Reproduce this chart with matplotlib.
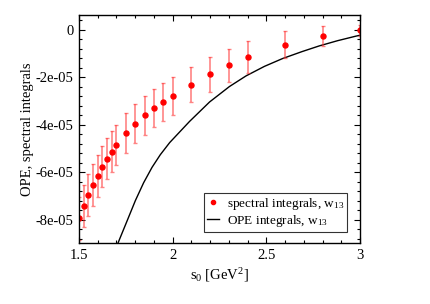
import matplotlib
matplotlib.use("Agg")
import matplotlib.pyplot as plt
from matplotlib.lines import Line2D
from matplotlib.ticker import MultipleLocator, FixedLocator, FixedFormatter

plt.rcParams['font.family'] = ['Liberation Serif', 'DejaVu Serif']
plt.rcParams['mathtext.fontset'] = 'custom'
plt.rcParams['mathtext.rm'] = 'Liberation Serif'
plt.rcParams['mathtext.it'] = 'Liberation Serif:italic'

# spectral integrals (points with error bars)
s0_spec = [1.5, 1.525, 1.55, 1.575, 1.6, 1.625, 1.65, 1.675, 1.7,
           1.75, 1.8, 1.85, 1.9, 1.95, 2.0, 2.1, 2.2, 2.3, 2.4, 2.6, 2.8, 3.0]
spec_vals = [-7.95e-5, -7.44e-5, -6.98e-5, -6.54e-5, -6.15e-5, -5.77e-5, -5.44e-5,
             -5.14e-5, -4.85e-5, -4.36e-5, -3.96e-5, -3.61e-5, -3.30e-5, -3.04e-5,
             -2.78e-5, -2.32e-5, -1.89e-5, -1.50e-5, -1.16e-5, -0.63e-5, -0.27e-5, -0.04e-5]
spec_errs = [0.92e-5, 0.89e-5, 0.88e-5, 0.88e-5, 0.88e-5, 0.87e-5, 0.86e-5,
             0.85e-5, 0.85e-5, 0.84e-5, 0.83e-5, 0.82e-5, 0.81e-5, 0.80e-5,
             0.80e-5, 0.75e-5, 0.73e-5, 0.70e-5, 0.67e-5, 0.55e-5, 0.43e-5, 0.22e-5]

# OPE integrals (curve)
s0_ope = [1.705, 1.757, 1.801, 1.845, 1.890, 1.934, 1.984, 2.09, 2.197,
          2.303, 2.392, 2.49, 2.587, 2.69, 2.782, 2.88, 2.977, 3.0]
ope_vals = [-9.05e-5, -8.05e-5, -7.20e-5, -6.45e-5, -5.80e-5, -5.27e-5, -4.76e-5,
            -3.87e-5, -3.05e-5, -2.40e-5, -1.95e-5, -1.55e-5, -1.22e-5, -0.93e-5,
            -0.69e-5, -0.47e-5, -0.28e-5, -0.24e-5]

yticks = [0, -2e-5, -4e-5, -6e-5, -8e-5]
ytick_labels = ['0', '-2e-05', '-4e-05', '-6e-05', '-8e-05']
xticks = [1.5, 2.0, 2.5, 3.0]
xtick_labels = ['1.5', '2', '2.5', '3']

fig = plt.figure(figsize=(4.31, 3.04), dpi=100)
ax = fig.add_axes([0.1833, 0.1997, 0.6520, 0.7500])

ope_line, = ax.plot(s0_ope, ope_vals, color='black', lw=1.0)
cont = ax.errorbar(s0_spec, spec_vals, yerr=spec_errs, fmt='o', color='red',
                   ms=3.6, ecolor=(1, 0.2, 0.2, 0.6), elinewidth=1.2,
                   capsize=1.6, capthick=1.0)
for cl in cont[1]:
    cl.set_color((0.95, 0.15, 0.15, 0.9))

ax.set_xlim(1.5, 3.0)
ax.set_ylim(-9.0e-5, 0.6e-5)

ax.xaxis.set_major_locator(FixedLocator(xticks))
ax.xaxis.set_major_formatter(FixedFormatter(xtick_labels))
ax.xaxis.set_minor_locator(MultipleLocator(0.1))
ax.yaxis.set_major_locator(FixedLocator(yticks))
ax.yaxis.set_major_formatter(FixedFormatter(ytick_labels))
ax.yaxis.set_minor_locator(MultipleLocator(0.4e-5))

ax.tick_params(which='both', direction='in', top=True, right=True,
               labelsize=10.5, width=0.8)
ax.tick_params(which='major', length=4.5, pad=4)
ax.tick_params(which='minor', length=2.5)
for sp in ax.spines.values():
    sp.set_linewidth(1.0)

ax.set_xlabel(r's$_0$ [GeV$^2$]', fontsize=10.5, labelpad=3)
ax.set_ylabel('OPE, spectral integrals', fontsize=10.5, labelpad=1)

h_spec = Line2D([], [], ls='none', marker='o', color='red', ms=3.0)
h_ope = Line2D([], [], color='black', lw=1.0)
leg = ax.legend([h_spec, h_ope],
                [r'spectral integrals, w$_{13}$', r'OPE integrals, w$_{13}$'],
                loc='lower right', bbox_to_anchor=(0.953, 0.051),
                fontsize=9.5, frameon=True, fancybox=False, edgecolor='black',
                handlelength=0.9, handletextpad=0.6, borderpad=0.2,
                labelspacing=0.1, borderaxespad=0)
leg.get_frame().set_linewidth(0.8)

fig.savefig('out.png', dpi=100)
